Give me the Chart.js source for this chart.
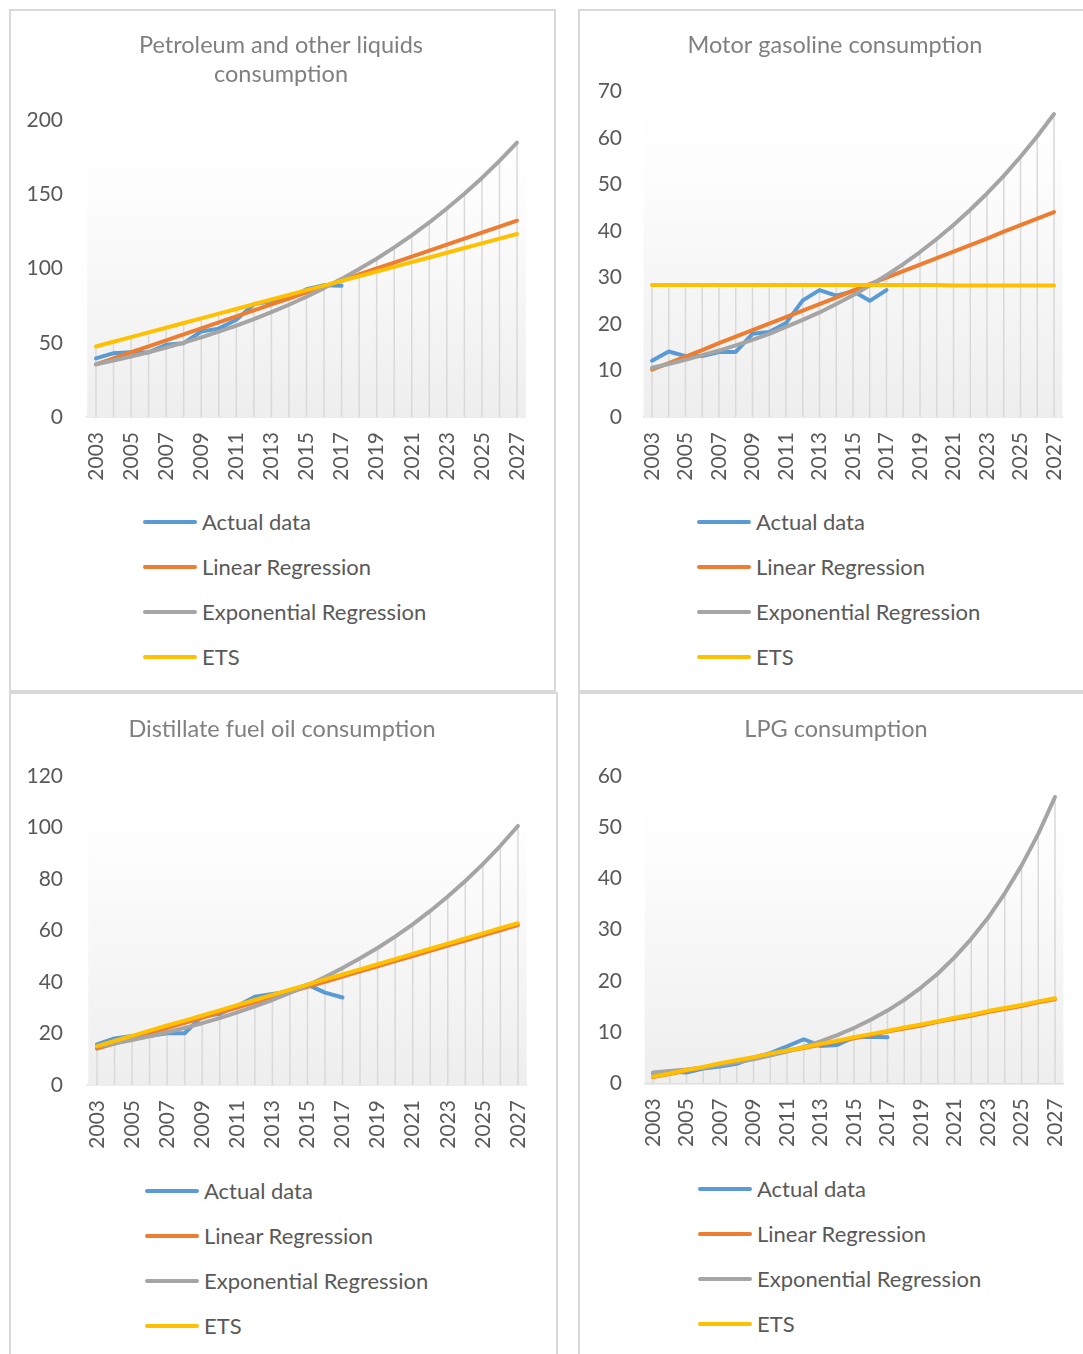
<!DOCTYPE html>
<html lang="en">
<head>
<meta charset="UTF-8">
<title>Consumption forecasts</title>
<script src="https://cdn.jsdelivr.net/npm/chart.js@4/dist/chart.umd.min.js"></script>
<style>
    body { margin: 0; background: #fff; width: 1083px; height: 1354px; overflow: hidden; position: relative; font-family: Lato, "Open Sans", sans-serif; }
    .panel { position: absolute; border: 2px solid #d9d9d9; box-sizing: border-box; background: #fff; overflow: hidden; }
    .panel canvas { position: absolute; left: 0; top: 0; }
    .legend { position: absolute; }
    .legend .item { height: 45px; display: flex; align-items: center; color: #595959; font-size: 22px; white-space: nowrap; }
    .legend .swatch { width: 54px; height: 4px; border-radius: 2px; margin-right: 5px; }
</style>
</head>
<body>
<div class="panel" style="left: 9px; top: 9px; width: 547px; height: 683px;">
    <canvas id="petrol"></canvas>
    <div class="legend" id="petrolLegend" style="left: 132px; top: 488px;"></div>
</div>
<div class="panel" style="left: 578px; top: 9px; width: 520px; height: 683px;">
    <canvas id="gasoline"></canvas>
    <div class="legend" id="gasolineLegend" style="left: 117px; top: 488px;"></div>
</div>
<div class="panel" style="left: 9px; top: 692px; width: 549px; height: 700px;">
    <canvas id="distillate"></canvas>
    <div class="legend" id="distillateLegend" style="left: 134px; top: 474px;"></div>
</div>
<div class="panel" style="left: 578px; top: 692px; width: 520px; height: 700px;">
    <canvas id="lpg"></canvas>
    <div class="legend" id="lpgLegend" style="left: 118px; top: 472px;"></div>
</div>
<script>
    const years = ['2003', '2004', '2005', '2006', '2007', '2008', '2009', '2010', '2011', '2012', '2013', '2014', '2015',
        '2016', '2017', '2018', '2019', '2020', '2021', '2022', '2023', '2024', '2025', '2026', '2027'];
    const seriesNames = ['Actual data', 'Linear Regression', 'Exponential Regression', 'ETS'];
    const seriesColors = ['#5b9bd5', '#ed7d31', '#a5a5a5', '#ffc000'];

    // Petroleum and other liquids consumption
    const petrolActual = [39.5, 43.0, 43.6, 43.5, 48.6, 49.7, 57.6, 59.5, 65.5, 76.0, 78.0, 80.0, 86.0, 88.8, 88.4,
        null, null, null, null, null, null, null, null, null, null];
    const petrolLinear = [35.5, 39.5, 43.6, 47.6, 51.6, 55.7, 59.7, 63.7, 67.7, 71.8, 75.8, 79.8, 83.9, 87.9, 91.9,
        96.0, 100.0, 104.0, 108.0, 112.1, 116.1, 120.1, 124.2, 128.2, 132.2];
    const petrolExp = [35.5, 38.0, 40.7, 43.6, 46.7, 50.1, 53.6, 57.5, 61.5, 65.9, 70.6, 75.6, 81.0, 86.8, 93.0,
        99.6, 106.6, 114.2, 122.3, 131.0, 140.4, 150.3, 161.0, 172.5, 184.7];
    const petrolEts = [47.5, 50.7, 53.8, 57.0, 60.1, 63.3, 66.4, 69.6, 72.7, 75.9, 79.1, 82.2, 85.4, 88.5, 91.7,
        94.8, 98.0, 101.1, 104.3, 107.4, 110.6, 113.8, 116.9, 120.1, 123.2];

    // Motor gasoline consumption
    const gasolineActual = [12.1, 14.1, 13.1, 13.1, 14.0, 14.0, 17.9, 18.3, 20.2, 25.1, 27.3, 26.1, 27.1, 25.0, 27.3,
        null, null, null, null, null, null, null, null, null, null];
    const gasolineLinear = [10.2, 11.6, 13.0, 14.4, 15.9, 17.3, 18.7, 20.1, 21.5, 22.9, 24.3, 25.7, 27.2, 28.6, 30.0,
        31.4, 32.8, 34.2, 35.6, 37.0, 38.4, 39.9, 41.3, 42.7, 44.1];
    const gasolineExp = [10.6, 11.4, 12.3, 13.3, 14.3, 15.4, 16.6, 17.9, 19.4, 20.9, 22.5, 24.3, 26.2, 28.3, 30.5,
        32.9, 35.5, 38.3, 41.3, 44.6, 48.1, 51.9, 56.0, 60.4, 65.2];
    const gasolineEts = [28.4, 28.4, 28.4, 28.4, 28.4, 28.4, 28.4, 28.4, 28.4, 28.4, 28.4, 28.4, 28.4, 28.4, 28.4,
        28.4, 28.4, 28.4, 28.3, 28.3, 28.3, 28.3, 28.3, 28.3, 28.3];

    // Distillate fuel oil consumption
    const distillateActual = [15.8, 18.1, 19.0, 19.0, 20.1, 20.1, 26.8, 27.6, 30.7, 34.3, 35.3, 36.2, 39.0, 35.9, 34.0,
        null, null, null, null, null, null, null, null, null, null];
    const distillateLinear = [14.1, 16.1, 18.1, 20.1, 22.1, 24.1, 26.1, 28.1, 30.1, 32.1, 34.1, 36.1, 38.1, 40.1, 42.1,
        44.1, 46.1, 48.1, 50.1, 52.1, 54.1, 56.1, 58.1, 60.1, 62.1];
    const distillateExp = [14.9, 16.1, 17.5, 18.9, 20.5, 22.2, 24.0, 26.0, 28.2, 30.5, 33.0, 35.8, 38.7, 41.9, 45.4,
        49.2, 53.2, 57.6, 62.4, 67.6, 73.2, 79.2, 85.8, 92.9, 100.6];
    const distillateEts = [15.1, 17.1, 19.1, 21.1, 23.1, 25.0, 27.0, 29.0, 31.0, 33.0, 35.0, 37.0, 39.0, 41.0, 42.9,
        44.9, 46.9, 48.9, 50.9, 52.9, 54.9, 56.9, 58.9, 60.9, 62.8];

    // LPG consumption
    const lpgActual = [1.9, 2.3, 2.1, 2.9, 3.3, 3.8, 5.0, 5.9, 7.2, 8.6, 7.3, 7.5, 9.0, 9.1, 9.0,
        null, null, null, null, null, null, null, null, null, null];
    const lpgLinear = [1.2, 1.8, 2.5, 3.1, 3.7, 4.4, 5.0, 5.6, 6.3, 6.9, 7.5, 8.2, 8.8, 9.4, 10.1,
        10.7, 11.3, 12.0, 12.6, 13.2, 13.9, 14.5, 15.1, 15.8, 16.4];
    const lpgExp = [2.1, 2.4, 2.7, 3.1, 3.6, 4.1, 4.7, 5.4, 6.2, 7.1, 8.2, 9.4, 10.8, 12.4, 14.2,
        16.3, 18.7, 21.4, 24.6, 28.2, 32.3, 37.1, 42.5, 48.7, 55.9];
    const lpgEts = [1.3, 1.9, 2.6, 3.2, 3.9, 4.5, 5.1, 5.8, 6.4, 7.0, 7.7, 8.3, 9.0, 9.6, 10.2,
        10.9, 11.5, 12.1, 12.8, 13.4, 14.1, 14.7, 15.3, 16.0, 16.6];

    const fontFamily = 'Lato, "Open Sans", sans-serif';
    const textColor = '#595959';
    const titleSize = 23.5;
    const titleLine = Math.round(titleSize * 1.25);

    // Excel-like plot area: light vertical gradient
    const plotFill = {
        id: 'plotFill',
        beforeDatasetsDraw(chart) {
            const {ctx, chartArea: a} = chart;
            const g = ctx.createLinearGradient(0, a.top, 0, a.bottom);
            g.addColorStop(0, '#ffffff');
            g.addColorStop(0.25, '#fdfdfd');
            g.addColorStop(1, '#eeeeee');
            ctx.save();
            ctx.fillStyle = g;
            ctx.fillRect(a.left, a.top, a.right - a.left, a.bottom - a.top);
            ctx.restore();
        }
    };

    // drop lines from the highest series value down to the axis
    const dropLines = {
        id: 'dropLines',
        beforeDatasetsDraw(chart) {
            const {ctx, chartArea: a, scales: {x, y}} = chart;
            ctx.save();
            ctx.strokeStyle = '#d9d9d9';
            ctx.lineWidth = 1.5;
            chart.data.labels.forEach((_, i) => {
                const vals = chart.data.datasets.map(d => d.data[i]).filter(v => v !== null);
                const px = x.getPixelForValue(i);
                ctx.beginPath();
                ctx.moveTo(px, y.getPixelForValue(Math.max(...vals)));
                ctx.lineTo(px, a.bottom);
                ctx.stroke();
            });
            ctx.restore();
        }
    };

    // centre the title on the whole chart box rather than the padded area
    const titleCentre = {
        id: 'titleCentre',
        afterLayout(chart, args, opts) {
            chart.titleBlock.left = 0;
            chart.titleBlock.right = 2 * opts.x;
        }
    };

    function makeChart(id, title, series, o) {
        const canvas = document.getElementById(id);
        canvas.width = o.w;
        canvas.height = o.h;
        const padTop = o.titleY - titleLine / 2;
        const padBottom = o.top - padTop - title.length * titleLine;
        const chart = new Chart(canvas, {
            type: 'line',
            data: {
                labels: years,
                datasets: series.map((data, i) => ({
                    label: seriesNames[i],
                    data: data,
                    borderColor: seriesColors[i],
                    backgroundColor: seriesColors[i],
                    borderWidth: 4,
                    pointRadius: 0,
                    tension: 0,
                    borderCapStyle: 'round',
                    borderJoinStyle: 'round',
                    order: 4 - i
                }))
            },
            options: {
                responsive: false,
                animation: false,
                layout: { padding: { left: 0, top: 0, right: o.w - o.right, bottom: 0 } },
                plugins: {
                    legend: { display: false },
                    tooltip: { enabled: false },
                    titleCentre: { x: o.titleX },
                    title: {
                        display: true,
                        text: title,
                        color: '#808080',
                        font: { family: fontFamily, size: titleSize, weight: 'normal', lineHeight: titleLine / titleSize },
                        padding: { top: padTop, bottom: padBottom }
                    }
                },
                scales: {
                    x: {
                        offset: true,
                        grid: { display: false, drawTicks: false },
                        border: { display: true, color: '#d9d9d9', width: 1.5 },
                        ticks: {
                            autoSkip: false, minRotation: 90, maxRotation: 90, padding: 15,
                            color: textColor, font: { family: fontFamily, size: 21 },
                            callback: function (v, i) { return i % 2 === 0 ? this.getLabelForValue(v) : ''; }
                        },
                        afterFit: s => { s.height = o.h - o.bottom; s.paddingLeft = 0; s.paddingRight = 0; }
                    },
                    y: {
                        min: 0,
                        max: o.max,
                        grid: { display: false, drawTicks: false },
                        border: { display: false },
                        ticks: {
                            stepSize: o.step, padding: o.left - o.labelRight,
                            color: textColor, font: { family: fontFamily, size: 21 }
                        },
                        afterFit: s => { s.width = o.left; }
                    }
                }
            },
            plugins: [plotFill, dropLines, titleCentre]
        });

        // legend listed vertically below the plot
        const legend = document.getElementById(id + 'Legend');
        chart.data.datasets.forEach(ds => {
            const item = document.createElement('div');
            item.className = 'item';
            const sw = document.createElement('span');
            sw.className = 'swatch';
            sw.style.background = ds.borderColor;
            item.appendChild(sw);
            item.appendChild(document.createTextNode(ds.label));
            legend.appendChild(item);
        });
        return chart;
    }

    makeChart('petrol', ['Petroleum and other liquids', 'consumption'],
        [petrolActual, petrolLinear, petrolExp, petrolEts],
        { w: 535, h: 480, left: 76.2, right: 514.8, top: 109, bottom: 406, labelRight: 52, titleX: 270, titleY: 34, max: 200, step: 50 });
    makeChart('gasoline', ['Motor gasoline consumption'],
        [gasolineActual, gasolineLinear, gasolineExp, gasolineEts],
        { w: 503, h: 480, left: 63.6, right: 482.4, top: 80.7, bottom: 406, labelRight: 42, titleX: 255, titleY: 34, max: 70, step: 10 });
    makeChart('distillate', ['Distillate fuel oil consumption'],
        [distillateActual, distillateLinear, distillateExp, distillateEts],
        { w: 536, h: 470, left: 77.2, right: 515.7, top: 82, bottom: 391, labelRight: 52, titleX: 271, titleY: 35, max: 120, step: 20 });
    makeChart('lpg', ['LPG consumption'],
        [lpgActual, lpgLinear, lpgExp, lpgEts],
        { w: 503, h: 470, left: 64.6, right: 483.4, top: 82, bottom: 389.3, labelRight: 42, titleX: 256, titleY: 35, max: 60, step: 10 });
</script>
</body>
</html>
